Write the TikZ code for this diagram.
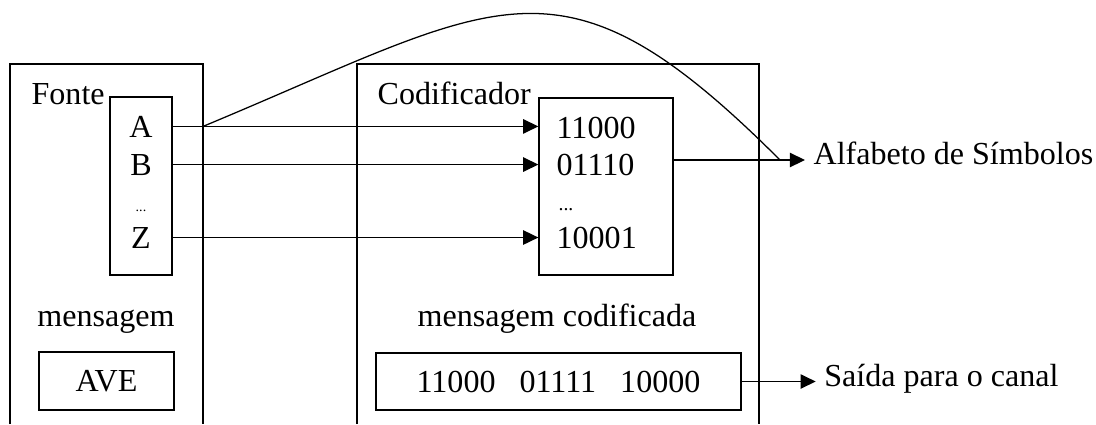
\documentclass[tikz,border=0pt]{standalone}
\usepackage{fontspec}
\setmainfont{Liberation Serif}
\usetikzlibrary{arrows.meta,positioning}

\begin{document}
\begin{tikzpicture}[x=0.025cm, y=-0.025cm, line width=0.9pt,
  font=\fontsize{22.8}{27}\selectfont,
  caixa/.style={draw, inner sep=0pt},
  titulo/.style={inner sep=0pt, anchor=base west},
  letra/.style={inner sep=0pt, anchor=base},
  codigo/.style={inner sep=0pt, anchor=base west},
  seta/.style={-{Triangle[length=0.38cm, width=0.36cm]}},
  rotulo/.style={anchor=west, inner sep=0.2cm, text height=0.68em, text depth=0pt}]
\useasboundingbox (0,0) rectangle (1096,424);

\draw (10,424) |- (203,64) -- (203,424);
\draw (357,424) |- (759,64) -- (759,424);
\coordinate (fR) at (203,64);
\coordinate (jx) at (780,64);

\node[titulo] (fonte) at (31,104) {Fonte};
\node[titulo] (codificador) at (377,104) {Codificador};

\node[caixa, minimum width=1.55cm, minimum height=4.45cm] (src) at (141,186) {};
\node[letra] (a) at (141,137) {A};
\node[letra] (b) at (141,175) {B};
\node[letra, font=\fontsize{10}{12}\selectfont] (pts) at (141,211) {...};
\node[letra] (z) at (141,248) {Z};

\node[caixa, minimum width=3.35cm, minimum height=4.425cm] (code) at (606,186.5) {};
\node[codigo] (ca) at (556,138) {11000};
\node[codigo] (cb) at (556,175) {01110};
\node[codigo, font=\fontsize{14}{16}\selectfont] (cpts) at (558,210) {...};
\node[codigo] (cz) at (556,248) {10001};

\draw[seta] (src.east |- a) -- (code.west |- a);
\draw[seta] (src.east |- b) -- (code.west |- b);
\draw[seta] (src.east |- z) -- (code.west |- z);

\node[rotulo] (alfa) at (805,160) {Alfabeto de Símbolos};
\draw[seta] (code.east |- alfa.west) -- (alfa.west);

\coordinate (fork) at (fR |- a);
\coordinate (join) at (jx |- alfa.west);
\draw (fork) .. controls (502,2) and (559,-61) .. (join);

\node[letra] (msg) at (106,326) {mensagem};
\node[letra] (msgcod) at (557,326) {mensagem codificada};

\node[caixa, minimum width=3.375cm, minimum height=1.45cm] (ave) at (106.5,381) {AVE};
\node[caixa, minimum width=9.125cm, minimum height=1.425cm] (coded) at (558.5,381.5)
  {11000\hspace{0.75em}01111\hspace{0.75em}10000};

\node[rotulo, right=1.85cm of coded] (saida) {Saída para o canal};
\draw[seta] (coded) -- (saida);

\end{tikzpicture}
\end{document}
